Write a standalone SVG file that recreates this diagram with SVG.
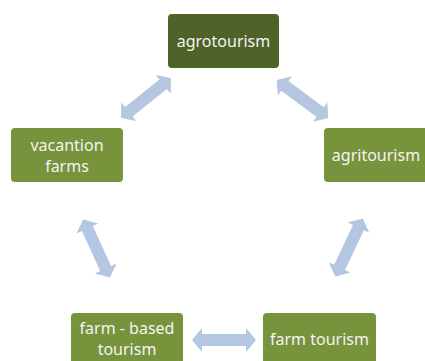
<svg xmlns="http://www.w3.org/2000/svg" width="425" height="361" viewBox="0 0 425 361">
<style>
.box{fill:#77933c;}
.dark{fill:#4f6228;}
.lbl{font-family:"Noto Sans","Open Sans",sans-serif;font-size:16px;fill:#f4f4f4;text-anchor:middle;}
.arr{fill:#b4c6e2;}
</style>
<defs>
<path id="dbl" d="M-32,0 L-22,-12 L-22,-6 L22,-6 L22,-12 L32,0 L22,12 L22,6 L-22,6 L-22,12 Z"/>
</defs>
<rect width="425" height="361" fill="#ffffff"/>
<g id="connectors" class="arr">
<use href="#dbl" transform="translate(146,98) rotate(-38.7)"/>
<use href="#dbl" transform="translate(302.5,99) rotate(36.7)"/>
<use href="#dbl" transform="translate(96.5,248.5) rotate(65.4)"/>
<use href="#dbl" transform="translate(349,247.5) rotate(-64.6)"/>
<use href="#dbl" transform="translate(224,340)"/>
</g>
<g id="agrotourism">
<rect class="dark" x="168" y="14" width="111" height="54" rx="4"/>
<text class="lbl" x="223.5" y="47">agrotourism</text>
</g>
<g id="vacantion-farms">
<rect class="box" x="11" y="128" width="112" height="54" rx="4"/>
<text class="lbl" x="67" y="151">vacantion</text>
<text class="lbl" x="67" y="172">farms</text>
</g>
<g id="agritourism">
<rect class="box" x="324" y="128" width="112" height="54" rx="4"/>
<text class="lbl" x="376" y="161">agritourism</text>
</g>
<g id="farm-based-tourism">
<rect class="box" x="71" y="313" width="112" height="54" rx="4"/>
<text class="lbl" x="127" y="334">farm - based</text>
<text class="lbl" x="127" y="355">tourism</text>
</g>
<g id="farm-tourism">
<rect class="box" x="263" y="313" width="113" height="54" rx="4"/>
<text class="lbl" x="319.5" y="345">farm tourism</text>
</g>
</svg>
